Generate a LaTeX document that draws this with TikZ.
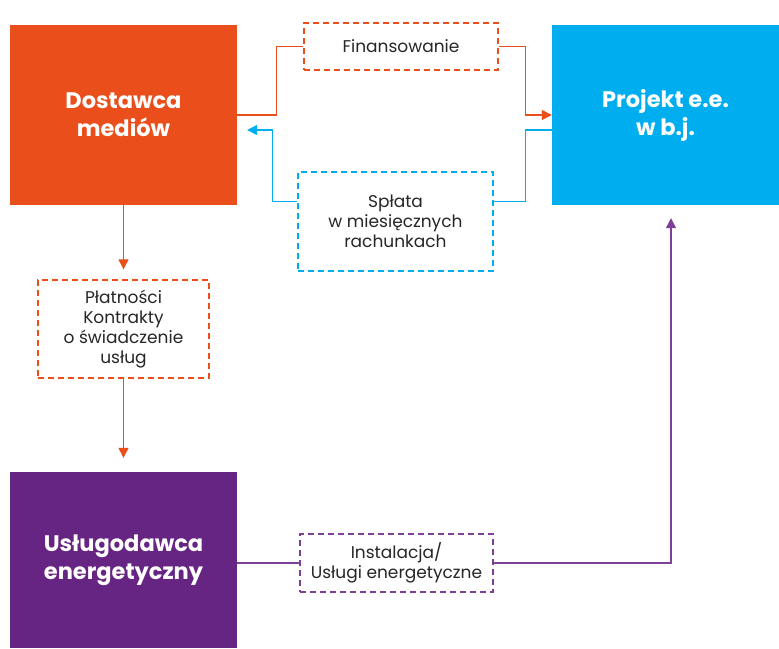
\documentclass[tikz,border=0pt]{standalone}
\usepackage{fontspec}
\setmainfont{Poppins}
\usepackage{tikz}
\usetikzlibrary{arrows.meta}

\definecolor{dmorange}{HTML}{E94E1B}
\definecolor{pjblue}{HTML}{00AEEF}
\definecolor{ugpurple}{HTML}{662483}
\definecolor{lnpurple}{HTML}{7E3F98}
\definecolor{txtgray}{HTML}{262626}

\tikzset{
  mainbox/.style={minimum width=227pt,inner sep=0pt,align=center,text=white,
    font=\fontsize{22.5}{28}\selectfont\bfseries},
  flowbox/.style={draw,dashed,line width=1.4pt,dash pattern=on 6pt off 4pt,
    inner sep=0pt,align=center,text=txtgray,fill=white,
    font=\fontsize{17}{20}\selectfont},
  flow/.style={line width=1.3pt,-{Triangle[length=10pt,width=10pt]}},
}

\begin{document}
\begin{tikzpicture}[x=1pt,y=-1pt,line cap=butt,line join=miter]
  \useasboundingbox[fill=white] (0,0) rectangle (779,648);

  % big boxes
  \node[mainbox,fill=dmorange,minimum height=180pt] (dost) at (123.5,115) {Dostawca\\mediów};
  \node[mainbox,fill=pjblue,minimum height=180pt] (proj) at (665.5,115) {Projekt e.e.\\w b.j.};
  \node[mainbox,fill=ugpurple,minimum height=176pt] (uslug) at (123.5,560) {Usługodawca\\energetyczny};

  % dashed boxes
  \node[flowbox,draw=dmorange,minimum width=194pt,minimum height=47pt] (fin) at (401,46.5) {Finansowanie};
  \node[flowbox,draw=pjblue,minimum width=195pt,minimum height=99pt] (splata) at (395.5,221.5) {Spłata\\w miesięcznych\\rachunkach};
  \node[flowbox,draw=dmorange,minimum width=171pt,minimum height=98pt] (platn) at (123.5,329) {Płatności\\Kontrakty\\o świadczenie\\usług};
  \node[flowbox,draw=lnpurple,minimum width=193pt,minimum height=58pt] (inst) at (396.5,563) {Instalacja/\\Usługi energetyczne};

  % connectors
  \draw[line width=1.3pt,dmorange] (dost.east) -- ++(39,0) |- (fin.west);
  \draw[flow,dmorange] (fin.east) -- ++(27,0) |- (proj.west);
  \draw[line width=1.3pt,pjblue] ([yshift=-15pt]proj.west) -- ++(-26,0) |- ([yshift=20pt]splata.east);
  \draw[flow,pjblue] ([yshift=20pt]splata.west) -- ++(-25,0) |- ([xshift=10pt,yshift=-15pt]dost.east);
  \draw[flow,dmorange] (dost.south) -- ([yshift=10pt]platn.north);
  \draw[flow,dmorange] (platn.south) -- ([yshift=14pt]uslug.north);
  \draw[line width=1.3pt,lnpurple] (uslug.east |- inst.west) -- (inst.west);
  \draw[flow,lnpurple] (inst.east) -| ([xshift=5.5pt,yshift=-13pt]proj.south);
\end{tikzpicture}
\end{document}
